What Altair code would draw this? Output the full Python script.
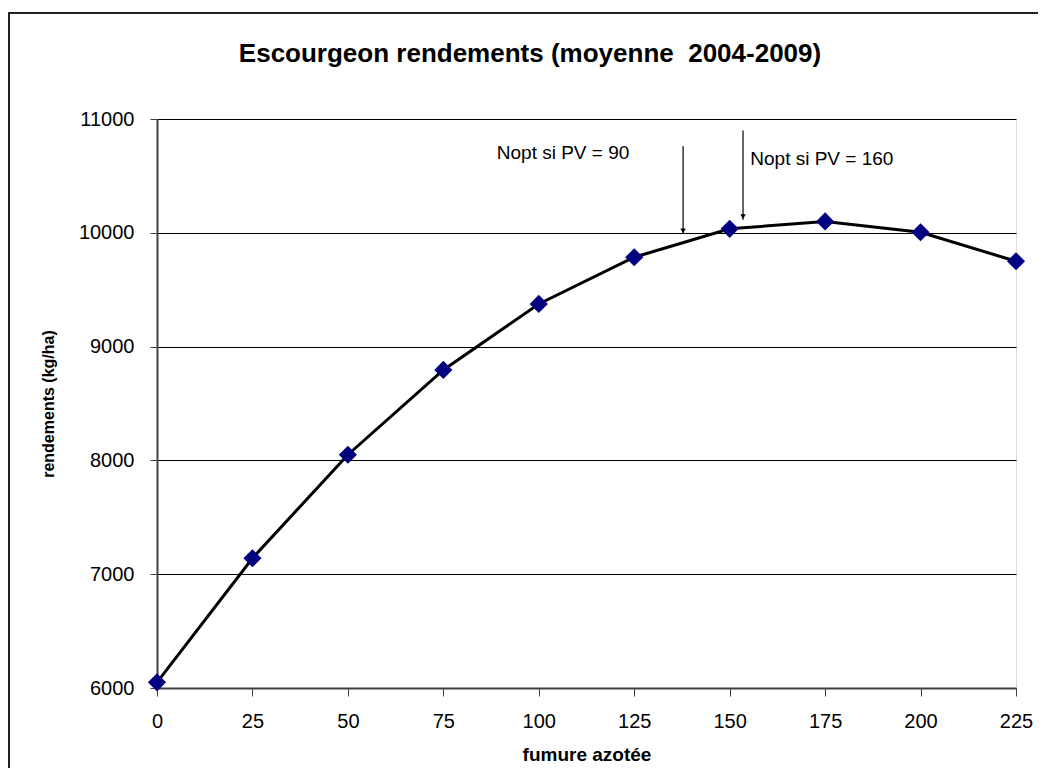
import altair as alt
import pandas as pd

# Data
fumure = [0, 25, 50, 75, 100, 125, 150, 175, 200, 225]
rendement = [6050, 7140, 8050, 8795, 9375, 9785, 10035, 10100, 10005, 9750]

arrow_x = [137.8, 153.5]
arrow_top = [10760, 10900]
arrow_tip = [9990, 10115]

label_text = ["Nopt si PV = 90", "Nopt si PV = 160"]
label_x = [89.0, 155.4]
label_y = [10648, 10595]

x_ticks = [0, 25, 50, 75, 100, 125, 150, 175, 200, 225]
y_ticks = [6000, 7000, 8000, 9000, 10000, 11000]

title_text = ["Escourgeon rendements (moyenne\u00a0\u00a02004-2009)"]

FONT = "Liberation Sans"

df = pd.DataFrame({"x": fumure, "y": rendement})
arrows = pd.DataFrame({"x": arrow_x, "y": arrow_top, "y2": arrow_tip})
labels = pd.DataFrame({"t": label_text, "x": label_x, "y": label_y})
tdf = pd.DataFrame({"t": title_text})

xscale = alt.Scale(domain=[0, 225], nice=False, zero=False)
yscale = alt.Scale(domain=[6000, 11000], nice=False, zero=False)

xaxis = alt.Axis(values=x_ticks, grid=False, title="fumure azotée", format="d",
                 labelFontSize=20, labelFont=FONT, labelPadding=15, labelColor="black",
                 tickSize=8, tickColor="#404040", domainColor="#404040", domainWidth=2,
                 labelFlush=False, titleFont=FONT, titleFontSize=19, titleFontWeight="bold",
                 titleColor="black", titlePadding=14)
yaxis = alt.Axis(values=y_ticks, grid=True, gridColor="black", gridWidth=1, format="d",
                 title="rendements (kg/ha)", labelFontSize=20, labelFont=FONT,
                 labelPadding=16, labelColor="black", tickSize=7, tickColor="#404040",
                 domainColor="#404040", domainWidth=2, titleFont=FONT, titleFontSize=16,
                 titleFontWeight="bold", titleColor="black", titlePadding=22)

base = alt.Chart(df)

line = base.mark_line(color="black", strokeWidth=3).encode(
    x=alt.X("x:Q", scale=xscale, axis=xaxis),
    y=alt.Y("y:Q", scale=yscale, axis=yaxis),
)
pts = base.mark_point(shape="diamond", filled=True, color="#000080", size=330, opacity=1).encode(
    x=alt.X("x:Q", scale=xscale),
    y=alt.Y("y:Q", scale=yscale),
)

arrow_lines = alt.Chart(arrows).mark_rule(color="black", strokeWidth=1.2).encode(
    x=alt.X("x:Q", scale=xscale),
    y=alt.Y("y:Q", scale=yscale),
    y2="y2:Q",
)
arrow_heads = alt.Chart(arrows).mark_point(
    shape="triangle-down", filled=True, color="black", size=30, opacity=1, yOffset=-3
).encode(
    x=alt.X("x:Q", scale=xscale),
    y=alt.Y("y2:Q", scale=yscale),
)

texts = alt.Chart(labels).mark_text(align="left", baseline="alphabetic", font=FONT,
                                    fontSize=19, color="black").encode(
    x=alt.X("x:Q", scale=xscale),
    y=alt.Y("y:Q", scale=yscale),
    text="t:N",
)

title = alt.Chart(tdf).mark_text(align="center", baseline="alphabetic", font=FONT,
                                 fontSize=26, fontWeight="bold", color="black").encode(
    x=alt.value(373), y=alt.value(-57), text="t:N"
)

# outer frame (top and left edges visible in reference)
frame_top = alt.Chart(df).mark_rule(color="#202020", strokeWidth=1.5).encode(
    x=alt.value(-149), x2=alt.value(1000), y=alt.value(-106)
)
frame_left = alt.Chart(df).mark_rule(color="#202020", strokeWidth=1.5).encode(
    x=alt.value(-148), y=alt.value(-106), y2=alt.value(800)
)

chart = alt.layer(frame_top, frame_left, line, pts, arrow_lines, arrow_heads, texts, title).properties(
    width=859,
    height=569,
    autosize=alt.AutoSizeParams(type="none"),
    padding={"left": 149, "top": 111, "right": 22, "bottom": 80},
).configure_view(stroke="#808080", strokeWidth=1).configure(background="white")

chart.save("out.html", embed_options={"renderer": "svg", "actions": False})
